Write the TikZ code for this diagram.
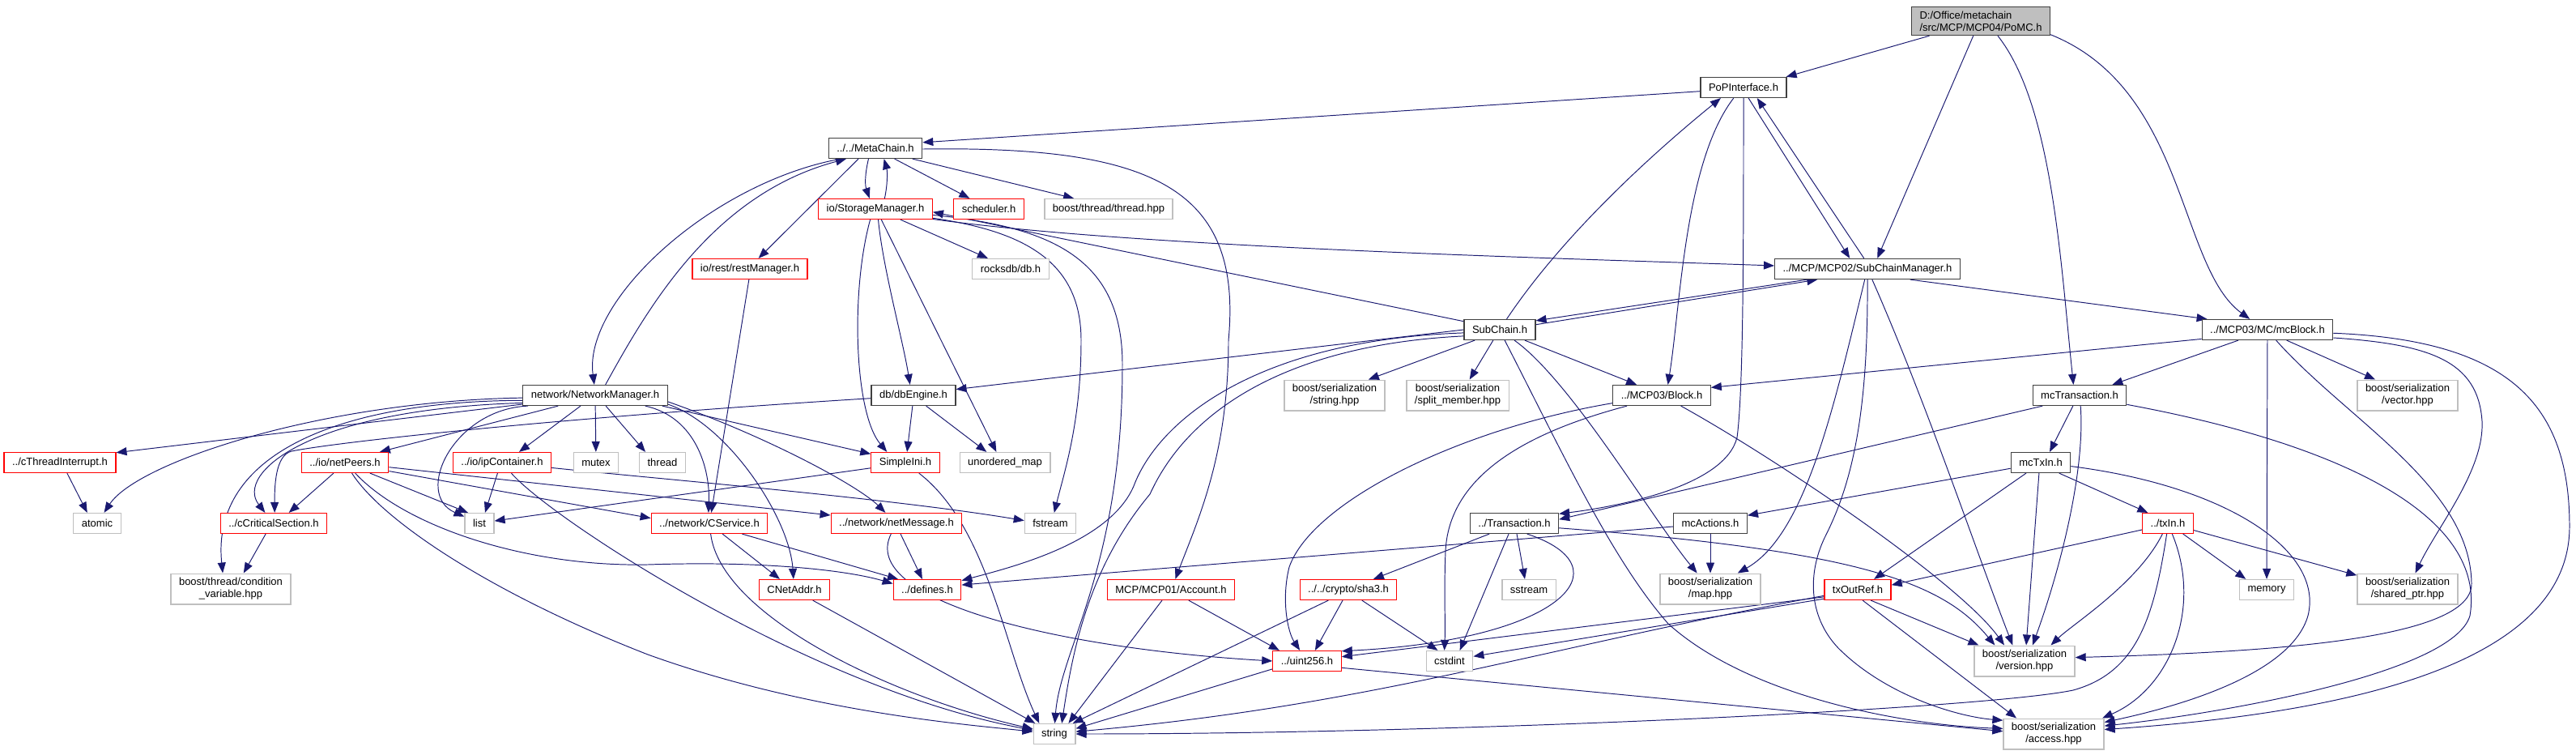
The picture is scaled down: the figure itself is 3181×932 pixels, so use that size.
\documentclass[tikz,border=0pt]{standalone}
\usepackage{fontspec}
\setmainfont{Liberation Sans}
\usetikzlibrary{arrows.meta}
\usetikzlibrary{backgrounds}

\definecolor{depblue}{HTML}{191970}
\definecolor{projred}{HTML}{FF0000}
\definecolor{sysgray}{HTML}{BFBFBF}
\definecolor{hdrline}{HTML}{404040}
\definecolor{maingray}{HTML}{BFBFBF}
\newcommand{\filefont}{\fontsize{7.4}{8.6}\selectfont}

\tikzset{
  file/.style={draw, fill=white, font=\filefont, line width=0.7pt, inner xsep=0.2cm, inner ysep=3pt, minimum height=0.5cm, align=center},
  hdr/.style={file, draw=hdrline},
  proj/.style={file, draw=projred},
  sys/.style={file, draw=sysgray},
  dep/.style={draw=depblue, line width=0.55pt, -{Triangle[length=0.26cm, width=0.2cm]}}
}

\begin{document}
\begin{tikzpicture}[x=0.02cm, y=-0.02cm]
\useasboundingbox (0,0) rectangle (3181,932);

    % files
    \node[file, fill=maingray, draw=hdrline, align=left] (pomc) at (2446,26) {D:/Office/metachain\\/src/MCP/MCP04/PoMC.h};
    \node[hdr] (popi) at (2153,108) {PoPInterface.h};
    \node[hdr] (meta) at (1081,183) {../../MetaChain.h};
    \node[proj] (store) at (1081,258) {io/StorageManager.h};
    \node[proj] (sched) at (1221,258) {scheduler.h};
    \node[sys] (bthread) at (1369,258) {boost/thread/thread.hpp};
    \node[proj] (rest) at (926,332) {io/rest/restManager.h};
    \node[sys] (rocks) at (1248,332) {rocksdb/db.h};
    \node[hdr] (scm) at (2306,332) {../MCP/MCP02/SubChainManager.h};
    \node[hdr] (subchain) at (1852,407) {SubChain.h};
    \node[hdr] (mcblock) at (2800,407) {../MCP03/MC/mcBlock.h};
    \node[hdr] (netman) at (735,488) {network/NetworkManager.h};
    \node[hdr] (dbeng) at (1128,488) {db/dbEngine.h};
    \node[sys] (bstring) at (1648,488) {boost/serialization\\/string.hpp};
    \node[sys] (bsplit) at (1800,488) {boost/serialization\\/split\_member.hpp};
    \node[hdr] (block) at (2052,488) {../MCP03/Block.h};
    \node[hdr] (mctrans) at (2568,488) {mcTransaction.h};
    \node[sys] (bvector) at (2973,488) {boost/serialization\\/vector.hpp};
    \node[proj] (cthr) at (74,571) {../cThreadInterrupt.h};
    \node[proj] (netpeers) at (426,571) {../io/netPeers.h};
    \node[proj] (ipcont) at (620,571) {../io/ipContainer.h};
    \node[sys] (mutex) at (736,571) {mutex};
    \node[sys] (thread) at (818,571) {thread};
    \node[proj] (simpleini) at (1118,571) {SimpleIni.h};
    \node[sys] (umap) at (1241,571) {unordered\_map};
    \node[hdr] (mctxin) at (2520,571) {mcTxIn.h};
    \node[sys] (atomic) at (120,646) {atomic};
    \node[proj] (ccrit) at (338,646) {../cCriticalSection.h};
    \node[sys] (list) at (592,646) {list};
    \node[proj] (cserv) at (876,646) {../network/CService.h};
    \node[proj] (netmsg) at (1107,646) {../network/netMessage.h};
    \node[sys] (fstream) at (1297,646) {fstream};
    \node[hdr] (trans) at (1870,646) {../Transaction.h};
    \node[hdr] (mcact) at (2112,646) {mcActions.h};
    \node[proj] (txin) at (2677,646) {../txIn.h};
    \node[sys] (condvar) at (285,727) {boost/thread/condition\\\_variable.hpp};
    \node[proj] (cnet) at (981,728) {CNetAddr.h};
    \node[proj] (defines) at (1145,728) {../defines.h};
    \node[proj] (account) at (1446,728) {MCP/MCP01/Account.h};
    \node[proj] (sha3) at (1665,728) {../../crypto/sha3.h};
    \node[sys] (sstream) at (1888,728) {sstream};
    \node[sys] (bmap) at (2112,727) {boost/serialization\\/map.hpp};
    \node[proj] (txoutref) at (2294,728) {txOutRef.h};
    \node[sys] (memory) at (2799,728) {memory};
    \node[sys] (bshared) at (2973,727) {boost/serialization\\/shared\_ptr.hpp};
    \node[proj] (uint) at (1614,816) {../uint256.h};
    \node[sys] (cstdint) at (1790,816) {cstdint};
    \node[sys] (bversion) at (2500,816) {boost/serialization\\/version.hpp};
    \node[sys] (string) at (1302,906) {string};
    \node[sys] (baccess) at (2536,906) {boost/serialization\\/access.hpp};

\begin{pgfonlayer}{background}
    % PoMC.h
    \draw[dep] (pomc.196) -- (popi.14);
    \draw[dep] (pomc.243) -- (scm.47);
    \draw[dep] (pomc.319) .. controls (2535,130) and (2545,330) .. (mctrans.120);
    \draw[dep] (pomc.349) .. controls (2700,110) and (2690,330) .. (mcblock.149);

    % PoPInterface.h
    \draw[dep] (popi.185) -- (meta.7);
    \draw[dep] (popi.295) -- (scm.149);
    \draw[dep] (scm.108) -- (popi.322);
    \draw[dep] (popi.227) .. controls (2080,200) and (2075,380) .. (block.60);
    \draw[dep] (popi.270) .. controls (2153,300) and (2153,480) .. (2145,540) .. controls (2130,600) and (2000,625) .. (trans.12);
    \draw[dep] (subchain.57) .. controls (1930,290) and (2040,190) .. (popi.205);

    % MetaChain.h
    \draw[dep] (meta.237) .. controls (1068,215) and (1068,228) .. (store.119);
    \draw[dep] (store.49) .. controls (1096,228) and (1096,212) .. (meta.309);
    \draw[dep] (meta.331) -- (sched.151);
    \draw[dep] (meta.344) -- (bthread.163);
    \draw[dep] (meta.212) -- (rest.51);
    \draw[dep] (meta.197) .. controls (880,225) and (720,370) .. (netman.95);
    \draw[dep] (netman.46) .. controls (800,380) and (880,240) .. (meta.200);
    \draw[dep] (meta.359) .. controls (1420,180) and (1535,230) .. (1517,420) .. controls (1517,560) and (1480,640) .. (account.68);

    % io/StorageManager.h
    \draw[dep] (store.337) -- (rocks.155);
    \draw[dep] (store.285) .. controls (1090,330) and (1115,420) .. (dbeng.108);
    \draw[dep] (store.244) .. controls (1050,360) and (1055,510) .. (simpleini.150);
    \draw[dep] (store.299) -- (umap.129);
    \draw[dep] (store.351) .. controls (1260,285) and (1335,320) .. (1335,420) .. controls (1335,520) and (1315,580) .. (fstream.70);
    \draw[dep] (store.354) .. controls (1300,280) and (1386,320) .. (1386,450) .. controls (1386,700) and (1310,800) .. (string.88);
    \draw[dep] (store.350) .. controls (1400,305) and (1900,318) .. (scm.178);
    \draw[dep] (subchain.167) -- (store.357);

    % network/NetworkManager.h
    \draw[dep] (netman.187) -- (cthr.10);
    \draw[dep] (netman.182) .. controls (400,495) and (170,570) .. (atomic.57);
    \draw[dep] (netman.186) .. controls (380,505) and (290,585) .. (ccrit.129);
    \draw[dep] (netman.184) .. controls (420,495) and (260,560) .. (condvar.117);
    \draw[dep] (netman.196) -- (netpeers.17);
    \draw[dep] (netman.189) .. controls (560,505) and (510,610) .. (list.156);
    \draw[dep] (netman.216) -- (ipcont.32);
    \draw[dep] (netman) -- (mutex);
    \draw[dep] (netman.315) -- (thread.148);
    \draw[dep] (netman.351) -- (simpleini.166);
    \draw[dep] (netman.348) .. controls (860,515) and (877,580) .. (cserv.95);
    \draw[dep] (netman.353) .. controls (900,525) and (975,640) .. (cnet.95);
    \draw[dep] (netman.355) .. controls (950,540) and (1060,600) .. (netmsg.136);

    \draw[dep] (rest.265) -- (cserv.80);

    % db/dbEngine.h
    \draw[dep] (dbeng.265) -- (simpleini.81);
    \draw[dep] (dbeng.320) -- (umap.150);
    \draw[dep] (dbeng.184) .. controls (700,515) and (420,545) .. (360,557) .. controls (340,562) and (339,600) .. (ccrit.85);

    \draw[dep] (cthr.304) -- (atomic.133);

    % ../io/netPeers.h
    \draw[dep] (netpeers.223) -- (ccrit.35);
    \draw[dep] (netpeers.337) -- (list.137);
    \draw[dep] (netpeers.303) .. controls (470,640) and (600,730) .. (800,808) .. controls (1000,880) and (1200,895) .. (string.174);
    \draw[dep] (netpeers.314) .. controls (500,650) and (650,700) .. (800,697) .. controls (950,692) and (1050,705) .. (defines.170);
    \draw[dep] (netpeers.354) -- (netmsg.173);
    \draw[dep] (netpeers.349) -- (cserv.175);

    % ../io/ipContainer.h
    \draw[dep] (ipcont.247) -- (list.62);
    \draw[dep] (ipcont.311) .. controls (680,640) and (1000,850) .. (string.170);
    \draw[dep] (ipcont.354) .. controls (800,590) and (1100,615) .. (fstream.174);

    % SimpleIni.h
    \draw[dep] (simpleini.189) -- (list.9);
    \draw[dep] (simpleini.322) .. controls (1220,650) and (1240,800) .. (string.145);

    \draw[dep] (ccrit.233) -- (condvar.51);

    % ../network/CService.h
    \draw[dep] (cserv.321) -- (cnet.144);
    \draw[dep] (cserv.342) -- (defines.160);
    \draw[dep] (cserv.277) .. controls (890,760) and (1100,860) .. (string.167);

    % ../network/netMessage.h
    \draw[dep] (netmsg.291) -- (defines.115);
    \draw[dep] (netmsg.243) .. controls (1060,740) and (1300,800) .. (uint.180);

    \draw[dep] (cnet.330) -- (string.151);
    \draw[dep] (account.230) -- (string.37);
    \draw[dep] (account.329) -- (uint.159);
    \draw[dep] (uint.193) -- (string.14);
    \draw[dep] (uint.349) -- (baccess.177);

    % SubChain.h
    \draw[dep] (subchain.8) -- (scm.192);
    \draw[dep] (scm.190) -- (subchain.14);
    \draw[dep] (subchain.203) -- (bstring.25);
    \draw[dep] (subchain.238) -- (bsplit.53);
    \draw[dep] (subchain.337) -- (block.157);
    \draw[dep] (subchain.180) -- (dbeng.8);
    \draw[dep] (subchain.185) .. controls (1550,420) and (1430,520) .. (1400,600) .. controls (1370,670) and (1250,700) .. (defines.15);
    \draw[dep] (subchain.190) .. controls (1600,425) and (1470,500) .. (1420,610) .. controls (1345,700) and (1325,800) .. (string.55);
    \draw[dep] (subchain.324) .. controls (1940,470) and (2040,640) .. (bmap.130);
    \draw[dep] (subchain.295) .. controls (1930,560) and (1990,690) .. (2060,770) .. controls (2160,860) and (2350,895) .. (baccess.174);

    % ../MCP/MCP02/SubChainManager.h
    \draw[dep] (scm.346) -- (mcblock.170);
    \draw[dep] (scm.256) .. controls (2265,500) and (2230,660) .. (bmap.30);
    \draw[dep] (scm.270) .. controls (2307,500) and (2290,590) .. (2255,660) .. controls (2232,705) and (2232,760) .. (2270,800) .. controls (2330,860) and (2420,885) .. (baccess.165);
    \draw[dep] (scm.294) .. controls (2380,500) and (2440,680) .. (bversion.127);

    % ../MCP03/Block.h
    \draw[dep] (block.197) .. controls (1900,530) and (1790,580) .. (1785,680) .. controls (1783,730) and (1785,770) .. (cstdint.116);
    \draw[dep] (block.189) .. controls (1800,530) and (1620,620) .. (1592,700) .. controls (1582,740) and (1590,780) .. (uint.124);
    \draw[dep] (block.331) .. controls (2200,570) and (2420,720) .. (bversion.142);

    % ../MCP03/MC/mcBlock.h
    \draw[dep] (mcblock.200) -- (mctrans.18);
    \draw[dep] (mcblock.188) -- (block.9);
    \draw[dep] (mcblock.331) -- (bvector.154);
    \draw[dep] (mcblock) -- (memory);
    \draw[dep] (mcblock.353) .. controls (3000,425) and (3060,445) .. (3065,520) .. controls (3068,580) and (3010,650) .. (bshared.64);
    \draw[dep] (mcblock.357) .. controls (3100,420) and (3173,500) .. (3173,650) .. controls (3173,820) and (2900,880) .. (baccess.5);
    \draw[dep] (mcblock.309) .. controls (2900,520) and (3050,600) .. (3052,720) .. controls (3054,790) and (2800,805) .. (bversion.4);

    % mcTransaction.h
    \draw[dep] (mctrans.196) -- (trans.5);
    \draw[dep] (mctrans.238) -- (mctxin.50);
    \draw[dep] (mctrans.275) .. controls (2575,580) and (2545,700) .. (bversion.63);
    \draw[dep] (mctrans.349) .. controls (2900,550) and (3070,640) .. (3050,760) .. controls (3030,830) and (2750,880) .. (baccess.9);

    % mcTxIn.h
    \draw[dep] (mctxin.191) -- (mcact.12);
    \draw[dep] (mctxin.216) -- (txoutref.33);
    \draw[dep] (mctxin.330) -- (txin.152);
    \draw[dep] (mctxin.261) -- (bversion.84);
    \draw[dep] (mctxin.353) .. controls (2750,600) and (2870,680) .. (2850,760) .. controls (2830,830) and (2700,870) .. (baccess.13);

    % ../Transaction.h
    \draw[dep] (trans.203) -- (sha3.23);
    \draw[dep] (trans.283) -- (sstream.111);
    \draw[dep] (trans.242) -- (cstdint.46);
    \draw[dep] (trans.320) .. controls (2010,700) and (1930,790) .. (uint.16);
    \draw[dep] (trans.354) .. controls (2300,680) and (2400,720) .. (bversion.152);

    % mcActions.h
    \draw[dep] (mcact.185) -- (defines.8);
    \draw[dep] (mcact) -- (bmap);

    % ../../crypto/sha3.h
    \draw[dep] (sha3.242) -- (uint.53);
    \draw[dep] (sha3.322) -- (cstdint.138);
    \draw[dep] (sha3.208) -- (string.30);

    % txOutRef.h
    \draw[dep] (txoutref.192) -- (uint.7);
    \draw[dep] (txoutref.195) -- (cstdint.11);
    \draw[dep] (txoutref.190) .. controls (1900,800) and (1700,870) .. (string.6);
    \draw[dep] (txoutref.321) -- (bversion.161);
    \draw[dep] (txoutref.295) -- (baccess.157);

    % ../txIn.h
    \draw[dep] (txin.194) -- (txoutref.8);
    \draw[dep] (txin.243) .. controls (2640,720) and (2560,770) .. (bversion.31);
    \draw[dep] (txin.264) .. controls (2660,760) and (2640,830) .. (2560,852) .. controls (2450,875) and (1800,906) .. (string.0);
    \draw[dep] (txin.292) .. controls (2720,750) and (2680,850) .. (baccess.18);
    \draw[dep] (txin.325) -- (memory.153);
    \draw[dep] (txin.345) -- (bshared.165);
\end{pgfonlayer}
\end{tikzpicture}
\end{document}
